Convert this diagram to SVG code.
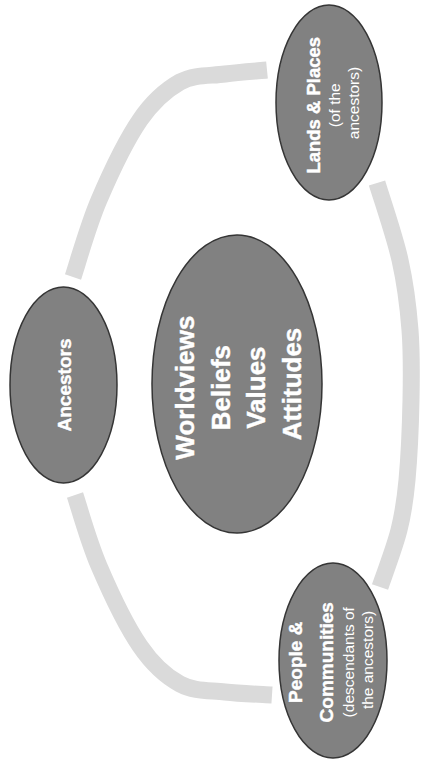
<svg xmlns="http://www.w3.org/2000/svg" width="423" height="764" viewBox="0 0 423 764">
<style>
.band{fill:none;stroke:#dadada;stroke-width:17;stroke-linecap:butt}
.node{fill:#818181;stroke:#353535;stroke-width:1.5}
.t{fill:#ffffff;font-family:"Liberation Sans",Arial,sans-serif;text-anchor:middle}
.b{font-weight:bold;stroke:#ffffff;stroke-width:0.4}
</style>
<rect width="423" height="764" fill="#ffffff"/>
<g id="connectors">
<path class="band" d="M73,277 C77.3,264.2 87.8,226.2 99,200 C110.2,173.8 126.5,139.7 140,120 C153.5,100.3 165.8,90 180,82 C194.2,74.3 210.5,76 225,74 C239.5,72 260,70.7 267,70"/>
<path class="band" d="M377,183 C380.8,195.8 394.5,235.5 400,260 C405.5,284.5 408.2,306.7 410,330 C411.8,353.3 411.5,375 411,400 C410.5,425 409,458.3 407,480 C405,501.7 403.5,512.2 399,530 C394.5,547.8 383.2,577.5 380,587"/>
<path class="band" d="M75,495 C79,506.8 88.2,540.8 99,566 C109.8,591.2 126.5,626.3 140,646 C153.5,665.7 165.8,676.3 180,684 C194.2,691.7 209.7,690.2 225,692 C240.3,693.8 264.2,694.5 272,695"/>
</g>
<g id="lands">
<ellipse class="node" cx="329" cy="102.5" rx="53" ry="97.5"/>
<text class="t" transform="translate(329,103) rotate(-90)">
<tspan class="b" x="0" y="-9" font-size="18.5">Lands &amp; Places</tspan>
<tspan x="0" y="11" font-size="15.5">(of the</tspan>
<tspan x="0" y="30" font-size="15.5">ancestors)</tspan>
</text>
</g>
<g id="ancestors">
<ellipse class="node" cx="63.5" cy="385" rx="53.5" ry="98"/>
<text class="t b" font-size="19" transform="translate(63.5,385) rotate(-90)" x="0" y="7">Ancestors</text>
</g>
<g id="center">
<ellipse class="node" cx="237" cy="384" rx="85" ry="149"/>
<text class="t b" font-size="26" transform="translate(237,384) rotate(-90)">
<tspan x="0" y="-43">Worldviews</tspan>
<tspan x="0" y="-7">Beliefs</tspan>
<tspan x="0" y="28">Values</tspan>
<tspan x="0" y="64">Attitudes</tspan>
</text>
</g>
<g id="people">
<ellipse class="node" cx="333" cy="660.5" rx="54" ry="97.5"/>
<text class="t" transform="translate(333,660) rotate(-90)">
<tspan class="b" x="0" y="-31" font-size="19">People &amp;</tspan>
<tspan class="b" x="0" y="0" font-size="19">Communities</tspan>
<tspan x="0" y="21" font-size="15.5">(descendants of</tspan>
<tspan x="0" y="40" font-size="15.5">the ancestors)</tspan>
</text>
</g>
</svg>
